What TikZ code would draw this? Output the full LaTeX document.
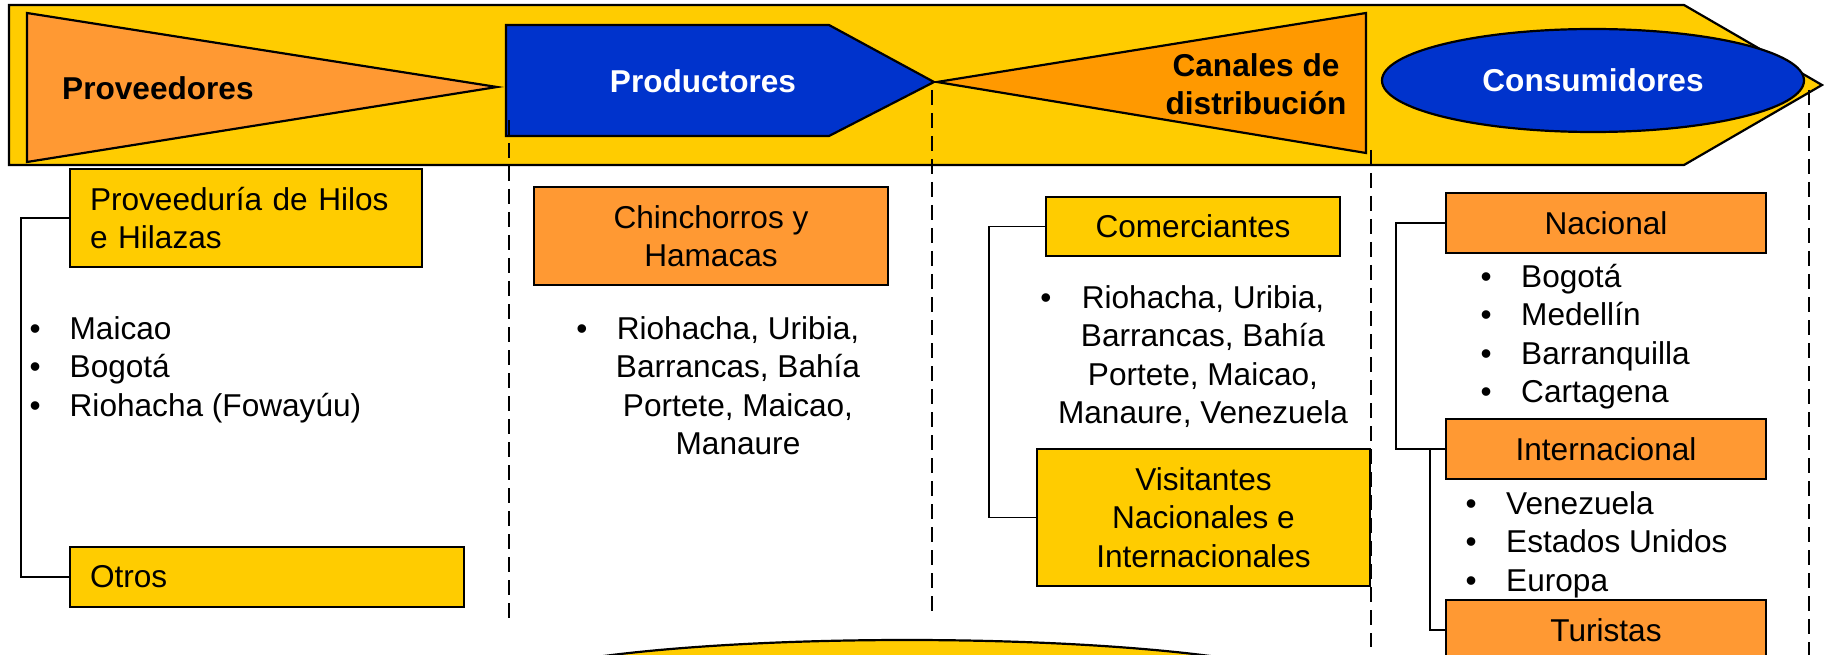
\documentclass[tikz,border=0pt]{standalone}
\usepackage{fontspec}
\setmainfont{Liberation Sans}
\usetikzlibrary{shapes.geometric}
\definecolor{ylw}{HTML}{FFCC00}
\definecolor{org}{HTML}{FF9933}
\definecolor{orgd}{HTML}{FF9900}
\definecolor{blu}{HTML}{0033CC}
\begin{document}
\begin{tikzpicture}[x=1pt,y=-1pt,
  shp/.style={draw=black, line width=2.2pt, line join=miter},
  txt/.style={font=\fontsize{31.6}{38.5}\selectfont, inner sep=0pt},
  hd/.style={inner sep=0pt, font=\fontsize{31.6}{38.5}\selectfont\bfseries},
  bx/.style={txt, draw=black, line width=2.2pt, align=center},
  li/.style={txt, anchor=base west},
  lc/.style={txt, anchor=base},
  conn/.style={draw=black, line width=1.8pt},
  dsh/.style={draw=black, line width=2pt, dash pattern=on 15pt off 8pt}]
\useasboundingbox (0,0) rectangle (1824,655);
\clip (0,0) rectangle (1824,655);

% header band
\draw[shp, fill=ylw] (9,5) -- (1684,5) -- (1822,85) -- (1684,165) -- (9,165) -- cycle;
\draw[shp, fill=org] (27,13) -- (497,87) -- (27,162) -- cycle;
\draw[shp, fill=blu] (506,25) -- (829,25) -- (934,82) -- (829,136) -- (506,136) -- cycle;
\draw[shp, fill=orgd] (937,82) -- (1366,13) -- (1366,153) -- cycle;
\node[ellipse, shp, fill=blu, minimum width=422pt, minimum height=103pt, inner sep=0pt,
      font=\fontsize{31.6}{38.5}\selectfont\bfseries, text=white] (cons) at (1593,80.5) {Consumidores};

\node[hd, anchor=base west] (provh) at (62,99.3) {Proveedores};
\node[hd, text=white] (prodh) at (703,81.5) {Productores};
\node[hd, align=center] (canh) at (1256,84) {Canales de\\distribución};

% dashed separators
\coordinate (d1a) at (509,120);  \coordinate (d1b) at (509,624);
\coordinate (d2a) at (932,90);   \coordinate (d2b) at (932,618);
\coordinate (d3a) at (1371,150); \coordinate (d3b) at (1371,647);
\coordinate (d4a) at (1809,90);  \coordinate (d4b) at (1809,660);
\draw[dsh] (d1a) -- (d1b);
\draw[dsh] (d2a) -- (d2b);
\draw[dsh] (d3a) -- (d3b);
\draw[dsh] (d4a) -- (d4b);

% bottom ellipse
\draw[shp, fill=ylw] (907,692) ellipse [x radius=420, y radius=52];

% boxes
\node[bx, fill=ylw, minimum width=352pt, minimum height=98pt, text width=312pt, inner xsep=20pt, align=left] (prov) at (246,218) {Proveeduría de Hilos\\e Hilazas};
\node[bx, fill=ylw, minimum width=394pt, minimum height=60pt, text width=354pt, inner xsep=20pt, align=left] (otros) at (267,577) {Otros};
\node[bx, fill=org, minimum width=354pt, minimum height=98pt] (chin) at (711,236) {Chinchorros y\\Hamacas};
\node[bx, fill=ylw, minimum width=294pt, minimum height=59pt] (comer) at (1193,226.5) {Comerciantes};
\node[bx, fill=ylw, minimum width=333pt, minimum height=137pt] (visit) at (1203.5,517.5) {Visitantes\\Nacionales e\\Internacionales};
\node[bx, fill=org, minimum width=320pt, minimum height=60pt] (nac) at (1606,223) {Nacional};
\node[bx, fill=org, minimum width=320pt, minimum height=60pt] (intl) at (1606,449) {Internacional};
\node[bx, fill=org, minimum width=320pt, minimum height=60pt] (tur) at (1606,630) {Turistas};

% connectors
\draw[conn] (prov.west) -- ++(-48,0) |- (otros.west);
\draw[conn] (comer.west) -- ++(-56,0) |- (visit.west);
\draw[conn] (nac.west) -- ++(-49,0) |- (intl.west);
\draw[conn] (intl.west) -- ++(-15,0) |- (tur.west);

% lists
\node[li] (m1) at (29.5,339.3) {\makebox[40pt][l]{•}Maicao};
\node[li] (m2) at (29.5,377.8) {\makebox[40pt][l]{•}Bogotá};
\node[li] (m3) at (29.5,416.3) {\makebox[40pt][l]{•}Riohacha (Fowayúu)};

\node[lc] (pb) at (582,339.3) {•};
\node[lc] (p1) at (738,339.3) {Riohacha, Uribia,};
\node[lc] (p2) at (738,377.8) {Barrancas, Bahía};
\node[lc] (p3) at (738,416.3) {Portete, Maicao,};
\node[lc] (p4) at (738,454.8) {Manaure};

\node[lc] (cb) at (1046,308.3) {•};
\node[lc] (c1) at (1203,308.3) {Riohacha, Uribia,};
\node[lc] (c2) at (1203,346.8) {Barrancas, Bahía};
\node[lc] (c3) at (1203,385.3) {Portete, Maicao,};
\node[lc] (c4) at (1203,423.8) {Manaure, Venezuela};

\node[li] (n1) at (1480.5,287.5) {\makebox[40.5pt][l]{•}Bogotá};
\node[li] (n2) at (1480.5,325.8) {\makebox[40.5pt][l]{•}Medellín};
\node[li] (n3) at (1480.5,364.1) {\makebox[40.5pt][l]{•}Barranquilla};
\node[li] (n4) at (1480.5,402.4) {\makebox[40.5pt][l]{•}Cartagena};

\node[li] (i1) at (1465.5,514.3) {\makebox[40.5pt][l]{•}Venezuela};
\node[li] (i2) at (1465.5,552.8) {\makebox[40.5pt][l]{•}Estados Unidos};
\node[li] (i3) at (1465.5,591.3) {\makebox[40.5pt][l]{•}Europa};
\end{tikzpicture}
\end{document}
